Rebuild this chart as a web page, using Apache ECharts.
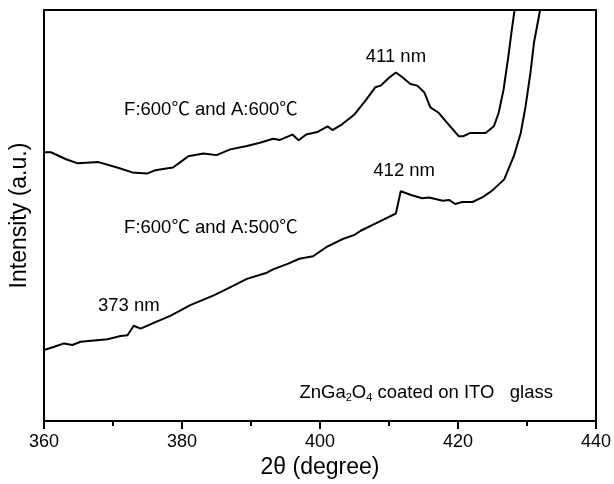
<!DOCTYPE html>
<html>
<head>
<meta charset="utf-8">
<script src="https://cdn.jsdelivr.net/npm/echarts@6/dist/echarts.min.js"></script>
<style>
	html, body { margin: 0; padding: 0; background: #fff; }
	#chart { width: 614px; height: 484px; }
</style>
</head>
<body>
<div id="chart"></div>
<script>
// wavelength (x) and intensity (a.u., 0-100 of the frame)
const xA600 = [360, 361.0, 363.2, 364.9, 367.9, 370.6, 372.8, 374.9, 376.1, 378.7, 380.9, 383.1, 385.0, 387.0, 389.4, 391.3, 393.2, 394.2, 396.0, 396.9, 398.0, 399.6, 401.1, 401.8, 403.2, 405.0, 406.7, 408.0, 408.8, 410.0, 411.0, 411.9, 413.1, 414.1, 415.1, 416.0, 417.2, 418.4, 420.1, 420.8, 421.8, 423.0, 424.0, 425.2, 425.9, 426.6, 427.3, 427.8, 428.2, 429.5];
const yA600 = [65.4, 65.4, 63.7, 62.7, 63.0, 61.7, 60.5, 60.2, 61.0, 61.7, 64.4, 65.1, 64.7, 66.1, 66.9, 67.7, 68.7, 68.4, 69.7, 68.3, 69.7, 70.3, 71.7, 70.8, 72.2, 74.6, 78.2, 81.2, 81.6, 83.5, 84.8, 83.7, 82.0, 81.6, 80.0, 76.3, 75.0, 72.6, 69.3, 69.3, 70.1, 70.1, 70.1, 71.7, 75.0, 80.6, 88.7, 95.2, 100, 110];

const xA500 = [360, 361.5, 362.9, 364.1, 365.3, 369.2, 371.1, 372.1, 373.0, 374.0, 375.9, 378.3, 381.2, 384.6, 387.4, 389.4, 392.3, 393.2, 395.4, 397.0, 399.0, 400.9, 403.3, 405.0, 405.9, 408.6, 411.0, 411.7, 413.2, 414.8, 415.8, 417.8, 418.7, 419.6, 420.6, 422.1, 423.5, 424.9, 426.7, 428.1, 429.1, 429.8, 430.5, 431.0, 431.9, 432.5];
const yA500 = [17.3, 18.1, 18.9, 18.5, 19.3, 19.9, 20.7, 20.9, 23.2, 22.5, 23.9, 25.6, 28.2, 30.6, 32.9, 34.6, 36.1, 36.9, 38.3, 39.5, 40.1, 42.3, 44.3, 45.3, 46.3, 48.5, 50.5, 55.9, 55.0, 54.2, 54.4, 53.6, 53.8, 52.8, 53.3, 53.3, 54.4, 56.0, 58.8, 64.5, 70.1, 76.6, 84.7, 91.9, 100, 110];

const xTicks = [360, 380, 400, 420, 440];

// annotations: text and anchor in data coordinates
const noteText = ["F:600℃ and A:600℃", "411 nm", "412 nm", "F:600℃ and A:500℃", "373 nm", "ZnGa{s|2}O{s|4} coated on ITO   glass"];
const noteX = [384.2, 411.0, 412.2, 384.2, 372.3, 415.4];
const noteY = [75.8, 88.6, 60.8, 47.0, 28.1, 6.8];

function pairs(xs, ys) {
	return xs.map(function(x, i) { return [x, ys[i]]; });
}

const font = "Liberation Sans, Arial, Noto Sans CJK SC, sans-serif";
let chart = echarts.init(document.getElementById("chart"));

let frameAxis = {
	type: "value",
	axisLine: { show: true, onZero: false, lineStyle: { color: "#000", width: 2 } },
	axisTick: { show: false },
	axisLabel: { show: false },
	splitLine: { show: false }
};

let option = {
	animation: false,
	backgroundColor: "#fff",
	grid: { left: 43, right: 16, top: 10, bottom: 61 },
	xAxis: [
		{
			type: "value",
			min: xTicks[0],
			max: xTicks[xTicks.length - 1],
			interval: 20,
			name: "2θ (degree)",
			nameLocation: "middle",
			nameGap: 33,
			nameTextStyle: { color: "#000", fontSize: 23, fontFamily: font },
			axisLine: { onZero: false, lineStyle: { color: "#000", width: 2 } },
			axisTick: { inside: false, length: 8, lineStyle: { color: "#000", width: 2 } },
			minorTick: { show: true, splitNumber: 2, length: 5, lineStyle: { color: "#000", width: 2 } },
			axisLabel: { color: "#000", fontSize: 18, fontFamily: font, margin: 12 },
			splitLine: { show: false }
		},
		Object.assign({}, frameAxis, { position: "top", min: xTicks[0], max: xTicks[xTicks.length - 1] })
	],
	yAxis: [
		{
			type: "value",
			min: 0,
			max: 100,
			name: "Intensity (a.u.)",
			nameLocation: "middle",
			nameGap: 13,
			nameTextStyle: { color: "#000", fontSize: 23, fontFamily: font },
			axisLine: { show: true, onZero: false, lineStyle: { color: "#000", width: 2 } },
			axisTick: { show: false },
			axisLabel: { show: false },
			splitLine: { show: false }
		},
		Object.assign({}, frameAxis, { position: "right", min: 0, max: 100 })
	],
	series: [
		{
			name: "F:600 A:600",
			type: "line",
			data: pairs(xA600, yA600),
			showSymbol: false,
			clip: true,
			lineStyle: { color: "#000", width: 2 }
		},
		{
			name: "F:600 A:500",
			type: "line",
			data: pairs(xA500, yA500),
			showSymbol: false,
			clip: true,
			lineStyle: { color: "#000", width: 2 }
		}
	]
};
chart.setOption(option);

// place annotation texts through the axes
let notes = noteText.map(function(t, i) {
	let p = chart.convertToPixel({ gridIndex: 0 }, [noteX[i], noteY[i]]);
	return {
		type: "text",
		x: p[0],
		y: p[1],
		style: {
			text: t,
			fill: "#000",
			fontSize: 18.5,
			fontFamily: font,
			align: "center",
			verticalAlign: "middle",
			rich: {
				s: { fontSize: 11, fill: "#000", fontFamily: font, padding: [9, 0, 0, 0] }
			}
		}
	};
});
chart.setOption({ graphic: notes });
</script>
</body>
</html>
